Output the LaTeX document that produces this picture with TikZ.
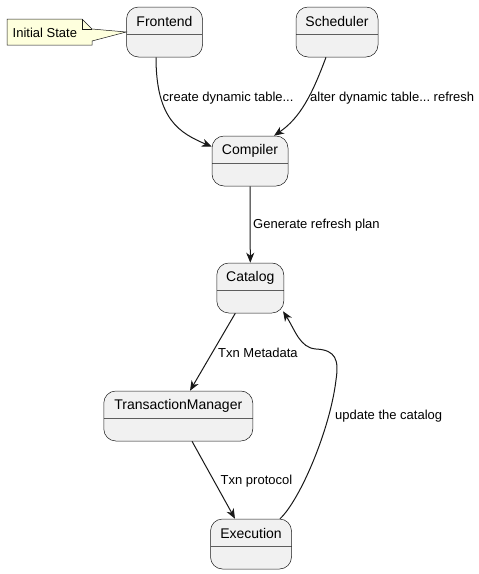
\documentclass[tikz,border=0pt]{standalone}
\usepackage{fontspec}
\setmainfont{Liberation Sans}
\usetikzlibrary{arrows.meta}
\definecolor{stfill}{HTML}{F1F1F1}
\definecolor{stline}{HTML}{181818}
\definecolor{notefill}{HTML}{FEFFDD}
\frenchspacing
\tikzset{
  statebox/.style={draw=stline, line width=0.5pt, fill=stfill, rounded corners=12pt,
    minimum height=50pt, inner sep=0pt,
    path picture={\draw[stline!70, line width=0.4pt]
      ([yshift=-27.5pt]path picture bounding box.north west) --
      ([yshift=-27.5pt]path picture bounding box.north east);},
    label={[anchor=center, yshift=-15pt, font=\fontsize{14pt}{16pt}\selectfont, text=black]north:#1}},
  edge/.style={draw=stline, line width=1pt, -{Stealth[length=10pt,width=8pt,inset=3pt]}},
  elabel/.style={anchor=west, inner sep=0pt, font=\fontsize{13pt}{15pt}\selectfont},
}
\begin{document}
\begin{tikzpicture}[x=1pt,y=-1pt]
\useasboundingbox (0,0) rectangle (479,574);
% states
\node[statebox=Frontend, minimum width=76pt] (fe) at (164.5,32) {};
\node[statebox=Scheduler, minimum width=82pt] (sch) at (337,32) {};
\node[statebox=Compiler, minimum width=76pt] (comp) at (250,161) {};
\node[statebox=Catalog, minimum width=67pt] (cat) at (250.3,288) {};
\node[statebox=TransactionManager, minimum width=149pt] (tm) at (178.3,416) {};
\node[statebox=Execution, minimum width=81pt] (ex) at (251,544) {};
% note
\coordinate (nfold) at (82,19);
\draw[stline, line width=0.5pt, fill=notefill]
  (7,19) -- (nfold) -- (92,29) -- (fe.west) -- (92,41) -- (92,45) -- (7,45) -- cycle;
\draw[stline, line width=0.5pt] (nfold) -- (82,29) -- (92,29);
\node[elabel] (notetext) at (12.5,33) {Initial State};
% edges
\draw[edge] ([xshift=-8.5pt]fe.south) .. controls (156,120) and (180,133) .. ([yshift=-11pt]comp.north west);
\draw[edge] ([xshift=-11pt]sch.south) .. controls (312,95) and (300,118) .. ([xshift=24pt]comp.north);
\draw[edge] (comp.south) -- (cat.north);
\draw[edge] ([xshift=-15pt]cat.south) -- ([xshift=11.7pt]tm.north);
\draw[edge] ([xshift=13.7pt]tm.south) -- ([xshift=-16pt]ex.north);
\coordinate (bend) at (336,380);
\draw[edge] ([xshift=29pt]ex.north) .. controls (300,500) and (330,430) .. (bend)
   .. controls (339,360) and (336,350) .. (316,349)
   .. controls (300,348) and (295,330) .. ([xshift=-1pt,yshift=2pt]cat.south east);
% labels
\node[elabel] (l1) at (162.5,98) {create dynamic table...};
\node[elabel] (l2) at (310,98) {alter dynamic table... refresh};
\node[elabel] (l3) at (253,225) {Generate refresh plan};
\node[elabel] (l4) at (218,353) {Txn Metadata};
\node[elabel] (l5) at (220.5,481) {Txn protocol};
\node[elabel] (l6) at (335,416.5) {update the catalog};
\end{tikzpicture}
\end{document}
